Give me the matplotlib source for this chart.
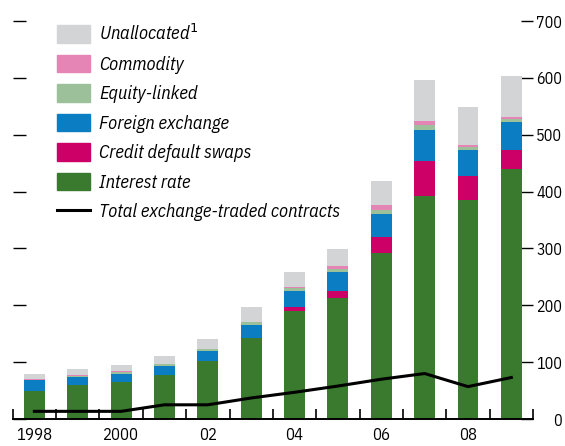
import matplotlib
matplotlib.use('Agg')
import matplotlib.pyplot as plt
from matplotlib.patches import Patch
from matplotlib.lines import Line2D

plt.rcParams['font.family'] = ['IBM Plex Sans Condensed', 'DejaVu Sans']

years = [1998, 1999, 2000, 2001, 2002, 2003, 2004, 2005, 2006, 2007, 2008, 2009]
interest_rate = [49.5, 60, 64.5, 77.5, 102, 142, 190, 212, 292, 393, 386, 439]
credit_default = [0, 0, 0, 0, 0, 1, 7, 14, 28, 60, 42, 35]
foreign_exchange = [19, 14, 15.5, 16, 18, 22, 28, 32, 40, 56, 45, 49]
equity_linked = [1, 2, 3, 3, 3, 5, 5, 6, 8, 8, 5, 5]
commodity = [1, 2, 1, 0.5, 1, 1, 2, 5, 9, 8, 4, 3]
unallocated = [9, 10, 11, 14, 17, 26, 27, 30, 42, 72, 67, 73]
exchange_traded = [13.5, 13.5, 13.5, 25, 25, 37, 47, 58, 70, 80, 57, 73]

tick_years = [1998, 2000, 2002, 2004, 2006, 2008]
tick_labels = ['1998', '2000', '02', '04', '06', '08']
y_ticks = [0, 100, 200, 300, 400, 500, 600, 700]

series = [
    ('Interest rate', interest_rate, '#3a7a2e'),
    ('Credit default swaps', credit_default, '#cc0066'),
    ('Foreign exchange', foreign_exchange, '#0b7dc3'),
    ('Equity-linked', equity_linked, '#9cc09a'),
    ('Commodity', commodity, '#e585b6'),
    ('Unallocated$^{1}$', unallocated, '#d3d4d6'),
]

fig = plt.figure(figsize=(5.65, 4.46), dpi=100)
ax = fig.add_axes([0.0225, 0.0605, 0.9209, 0.8924])

bottom = [0] * len(years)
for name, vals, col in series:
    ax.bar(years, vals, width=0.48, bottom=bottom, color=col, linewidth=0, zorder=2)
    bottom = [b + v for b, v in zip(bottom, vals)]

ax.plot(years, exchange_traded, color='black', lw=2.2, zorder=3)

ax.set_xlim(1997.5, 2009.5)
ax.set_ylim(0, 700)

for s in ['top', 'left', 'right']:
    ax.spines[s].set_visible(False)
ax.spines['bottom'].set_linewidth(1.4)

ax.set_xticks(tick_years)
ax.set_xticklabels(tick_labels)
ax.set_xticks([y + 0.5 for y in [1997] + years], minor=True)
ax.tick_params(axis='x', which='major', length=0, pad=6, labelsize=12)
ax.tick_params(axis='x', which='minor', direction='in', length=7.5, width=1.2)

ax.tick_params(axis='y', which='major', direction='in', length=9, width=1,
               left=True, right=True, labelleft=False, labelright=True,
               labelsize=11.5, pad=21)
ax.set_yticks(y_ticks, labels=[str(v) for v in y_ticks], ha='right')

handles = [Patch(color=c, label=n) for n, v, c in reversed(series)]
handles.append(Line2D([0], [0], color='black', lw=2.2, label='Total exchange-traded contracts'))
leg = ax.legend(handles=handles, loc='upper left', bbox_to_anchor=(0.085, 0.992),
                frameon=False, prop={'style': 'italic', 'size': 13.3},
                handlelength=1.8, handleheight=1.1, handletextpad=0.5,
                labelspacing=0.56, borderpad=0, borderaxespad=0)

fig.savefig('out.png', dpi=100)
